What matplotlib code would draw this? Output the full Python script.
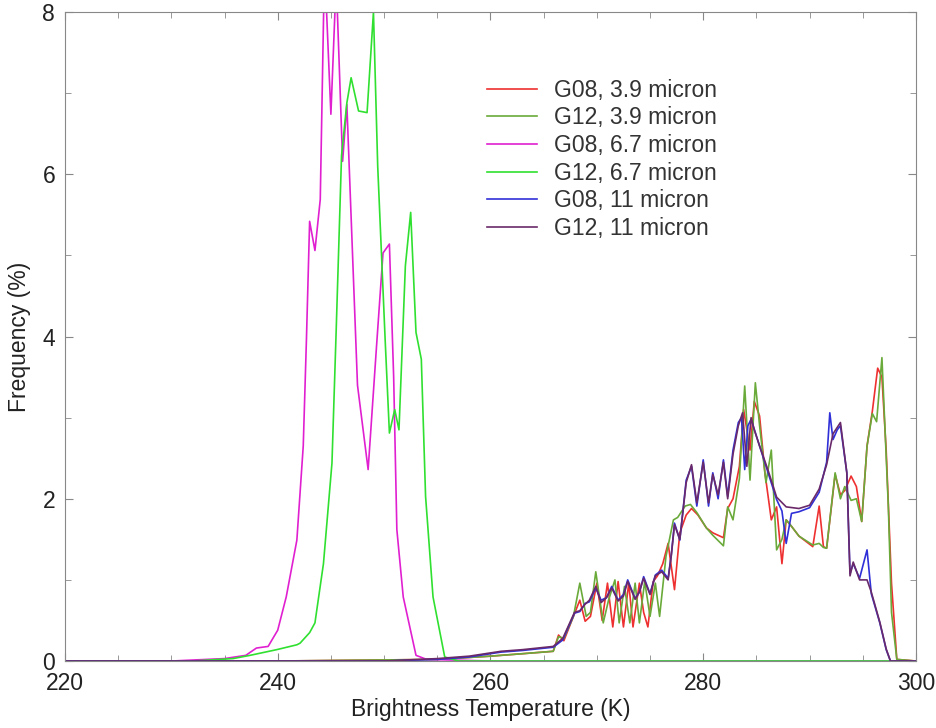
import numpy as np
import matplotlib
matplotlib.use("Agg")
import matplotlib.pyplot as plt
from matplotlib.ticker import MultipleLocator

plt.rcParams['font.family'] = ['Liberation Sans', 'DejaVu Sans']

# G08, 3.9 micron
t_g08_39 = [220, 240, 255, 260, 263, 265.9, 266.4, 266.9, 267.8, 268.4, 268.9, 269.4, 270.0, 270.5,
            271.0, 271.5, 272.0, 272.5, 273.0, 273.4, 274.0, 274.4, 274.8, 275.3, 275.7, 276.2, 276.7,
            277.3, 277.8, 278.4, 278.9, 279.5, 280.3, 280.9, 281.9, 282.3, 282.8, 283.4, 283.8, 284.4,
            284.8, 285.3, 285.8, 286.4, 286.9, 287.4, 287.8, 288.3, 289.0, 290.3, 290.9, 291.3, 291.6,
            292.4, 292.9, 293.3, 293.9, 294.4, 294.9, 295.4, 295.9, 296.4, 296.8, 297.2, 297.7, 298.2, 300]
f_g08_39 = [0, 0.0, 0.02, 0.06, 0.09, 0.12, 0.32, 0.25, 0.55, 0.75, 0.49, 0.55, 0.96, 0.50,
            0.96, 0.42, 0.98, 0.42, 0.96, 0.42, 0.96, 0.60, 0.42, 0.98, 1.05, 1.20, 1.45,
            0.88, 1.58, 1.80, 1.88, 1.80, 1.64, 1.58, 1.52, 1.88, 2.00, 2.40, 3.10, 2.60,
            3.20, 3.02, 2.32, 1.74, 1.90, 1.20, 1.74, 1.66, 1.54, 1.41, 1.91, 1.41, 1.39,
            2.30, 2.05, 2.10, 2.28, 2.15, 1.72, 2.65, 3.08, 3.61, 3.50, 2.60, 0.96, 0.02, 0]

# G12, 3.9 micron
t_g12_39 = [220, 240, 255, 260, 263, 265.9, 266.4, 266.9, 267.8, 268.4, 269.0, 269.4, 269.9, 270.6,
            271.1, 271.7, 272.1, 272.6, 273.1, 273.6, 274.0, 274.5, 275.0, 275.5, 275.9, 276.5, 277.2,
            277.6, 278.3, 278.8, 279.4, 280.3, 280.9, 281.9, 282.3, 282.8, 283.4, 283.9, 284.4, 284.9,
            285.3, 285.9, 286.4, 286.9, 287.4, 287.8, 288.3, 289.0, 290.3, 290.9, 291.3, 291.6, 292.4,
            292.9, 293.3, 293.9, 294.4, 294.9, 295.4, 295.9, 296.3, 296.8, 297.4, 297.7, 298.2, 300]
f_g12_39 = [0, 0.0, 0.02, 0.06, 0.09, 0.12, 0.30, 0.28, 0.55, 0.96, 0.55, 0.60, 1.10, 0.47,
            0.75, 1.00, 0.47, 0.92, 0.47, 0.96, 0.47, 0.98, 0.55, 0.96, 0.55, 1.29, 1.74,
            1.77, 1.91, 1.93, 1.83, 1.64, 1.55, 1.42, 1.90, 1.74, 2.25, 3.39, 2.23, 3.43,
            2.90, 2.20, 2.60, 1.37, 1.50, 1.74, 1.66, 1.54, 1.43, 1.45, 1.40, 1.39, 2.32,
            2.00, 2.15, 1.98, 2.00, 1.72, 2.65, 3.05, 2.95, 3.74, 1.91, 0.60, 0.02, 0]

# G08, 6.7 micron
t_g08_67 = [220, 230, 235, 237, 238, 239.1, 240.0, 240.8, 241.8, 242.4, 242.7, 243.0, 243.5, 244.0,
            244.4, 245.0, 245.5, 246.1, 246.5, 247.5, 248.5, 249.3, 249.9, 250.5, 250.9, 251.2, 251.8,
            253.0, 254, 260, 300]
f_g08_67 = [0, 0.0, 0.03, 0.07, 0.16, 0.18, 0.38, 0.79, 1.49, 2.65, 3.96, 5.42, 5.06, 5.69,
            8.60, 6.74, 8.40, 6.16, 6.86, 3.40, 2.36, 3.90, 5.03, 5.14, 3.50, 1.62, 0.79,
            0.07, 0.02, 0.0, 0]

# G12, 6.7 micron
t_g12_67 = [220, 232, 235.8, 237.4, 239.9, 241.8, 242.1, 243.0, 243.5, 244.3, 245.1, 245.5, 246.0,
            246.5, 246.9, 247.6, 248.4, 249.0, 249.4, 250.1, 250.5, 251.0, 251.4, 252.0, 252.5, 253.0,
            253.5, 253.9, 254.6, 255.7, 257, 300]
f_g12_67 = [0, 0.0, 0.03, 0.07, 0.14, 0.20, 0.22, 0.35, 0.47, 1.20, 2.44, 4.09, 6.23,
            6.88, 7.19, 6.78, 6.76, 8.00, 6.10, 3.96, 2.81, 3.10, 2.85, 4.87, 5.53, 4.05,
            3.72, 2.03, 0.79, 0.05, 0.0, 0]

# G08, 11 micron
t_g08_11 = [220, 250, 255, 258, 261, 263, 265.9, 266.8, 267.9, 268.4, 268.9, 269.3, 269.9, 270.4,
            270.9, 271.4, 272.0, 272.5, 272.9, 273.6, 274.0, 274.4, 275.0, 275.5, 276.1, 276.7, 277.0,
            277.3, 277.8, 278.4, 278.9, 279.4, 280.0, 280.5, 280.9, 281.4, 281.9, 282.3, 282.8, 283.3,
            283.6, 283.9, 284.2, 284.5, 285.3, 286.1, 286.9, 287.4, 287.8, 288.3, 289.0, 290.0, 290.9,
            291.6, 291.9, 292.2, 292.6, 292.9, 293.5, 293.8, 294.1, 294.7, 295.4, 295.8, 296.6, 297.2,
            297.6, 300]
f_g08_11 = [0, 0.0, 0.02, 0.05, 0.11, 0.13, 0.17, 0.26, 0.59, 0.61, 0.71, 0.73, 0.90, 0.75,
            0.78, 0.92, 0.75, 0.82, 1.00, 0.77, 0.85, 1.04, 0.83, 1.06, 1.12, 1.02, 1.31,
            1.70, 1.49, 2.23, 2.40, 1.91, 2.48, 1.91, 2.32, 2.00, 2.48, 2.03, 2.60, 2.94,
            3.00, 2.36, 2.90, 2.98, 2.65, 2.32, 1.99, 1.85, 1.45, 1.82, 1.84, 1.89, 2.08,
            2.45, 3.06, 2.73, 2.85, 2.90, 2.32, 1.08, 1.20, 1.02, 1.37, 0.83, 0.47, 0.14,
            0.0, 0]

# G12, 11 micron
t_g12_11 = [220, 250, 255, 258, 261, 263, 265.9, 266.8, 267.9, 268.4, 268.9, 269.3, 269.9, 270.4,
            270.9, 271.4, 272.0, 272.5, 272.9, 273.6, 274.0, 274.4, 275.0, 275.5, 276.1, 276.7, 277.0,
            277.3, 277.8, 278.4, 278.9, 279.4, 280.0, 280.5, 280.9, 281.4, 281.9, 282.3, 282.8, 283.3,
            283.7, 284.1, 284.5, 284.8, 285.3, 286.1, 286.9, 287.8, 289.0, 290.0, 290.9, 291.6, 292.2,
            292.9, 293.5, 293.8, 294.1, 294.7, 295.4, 295.8, 296.6, 297.2, 297.6, 300]
f_g12_11 = [0, 0.0, 0.03, 0.06, 0.12, 0.14, 0.18, 0.28, 0.60, 0.62, 0.70, 0.75, 0.92, 0.72,
            0.78, 0.90, 0.74, 0.80, 0.98, 0.76, 0.85, 1.02, 0.82, 1.05, 1.10, 1.00, 1.30,
            1.68, 1.50, 2.20, 2.42, 1.95, 2.45, 1.95, 2.30, 2.05, 2.45, 2.00, 2.55, 2.90,
            3.06, 2.40, 3.00, 2.85, 2.65, 2.35, 2.02, 1.90, 1.88, 1.92, 2.12, 2.42, 2.80,
            2.94, 2.32, 1.05, 1.22, 1.00, 1.00, 0.85, 0.48, 0.15, 0.0, 0]

series = [
    (t_g08_39, f_g08_39, "G08, 3.9 micron", "#ee3030"),
    (t_g12_39, f_g12_39, "G12, 3.9 micron", "#6aaa3a"),
    (t_g08_67, f_g08_67, "G08, 6.7 micron", "#e020d0"),
    (t_g12_67, f_g12_67, "G12, 6.7 micron", "#30e030"),
    (t_g08_11, f_g08_11, "G08, 11 micron", "#3030d8"),
    (t_g12_11, f_g12_11, "G12, 11 micron", "#6a2a6a"),
]

fig = plt.figure(figsize=(9.36, 7.28), dpi=100)
ax = fig.add_axes([0.0694, 0.092, 0.9092, 0.8915])

for t, f, lab, col in series:
    ax.plot(t, f, color=col, lw=1.2, label=lab)

ax.set_xlim(220, 300)
ax.set_ylim(0, 8)
ax.xaxis.set_major_locator(MultipleLocator(20))
ax.xaxis.set_minor_locator(MultipleLocator(5))
ax.yaxis.set_major_locator(MultipleLocator(2))
ax.yaxis.set_minor_locator(MultipleLocator(1))
ax.tick_params(which='both', direction='in', top=True, right=True, colors='#888888',
               labelcolor='#222222', labelsize=16.5)
ax.tick_params(axis='x', pad=8)
ax.tick_params(axis='y', pad=7)
ax.tick_params(which='major', length=6)
ax.tick_params(which='minor', length=4)
for s in ax.spines.values():
    s.set_color('#888888')

ax.set_xlabel("Brightness Temperature (K)", fontsize=16.5, color='#222222', labelpad=2)
ax.set_ylabel("Frequency (%)", fontsize=16.5, color='#222222', labelpad=8)

ax.legend(loc='upper left', bbox_to_anchor=(0.496, 0.897), frameon=False, fontsize=16.5,
          handlelength=2.2, handletextpad=0.7, labelspacing=0.2, borderpad=0,
          borderaxespad=0, labelcolor='#333333')

fig.savefig("out.png", dpi=100)
